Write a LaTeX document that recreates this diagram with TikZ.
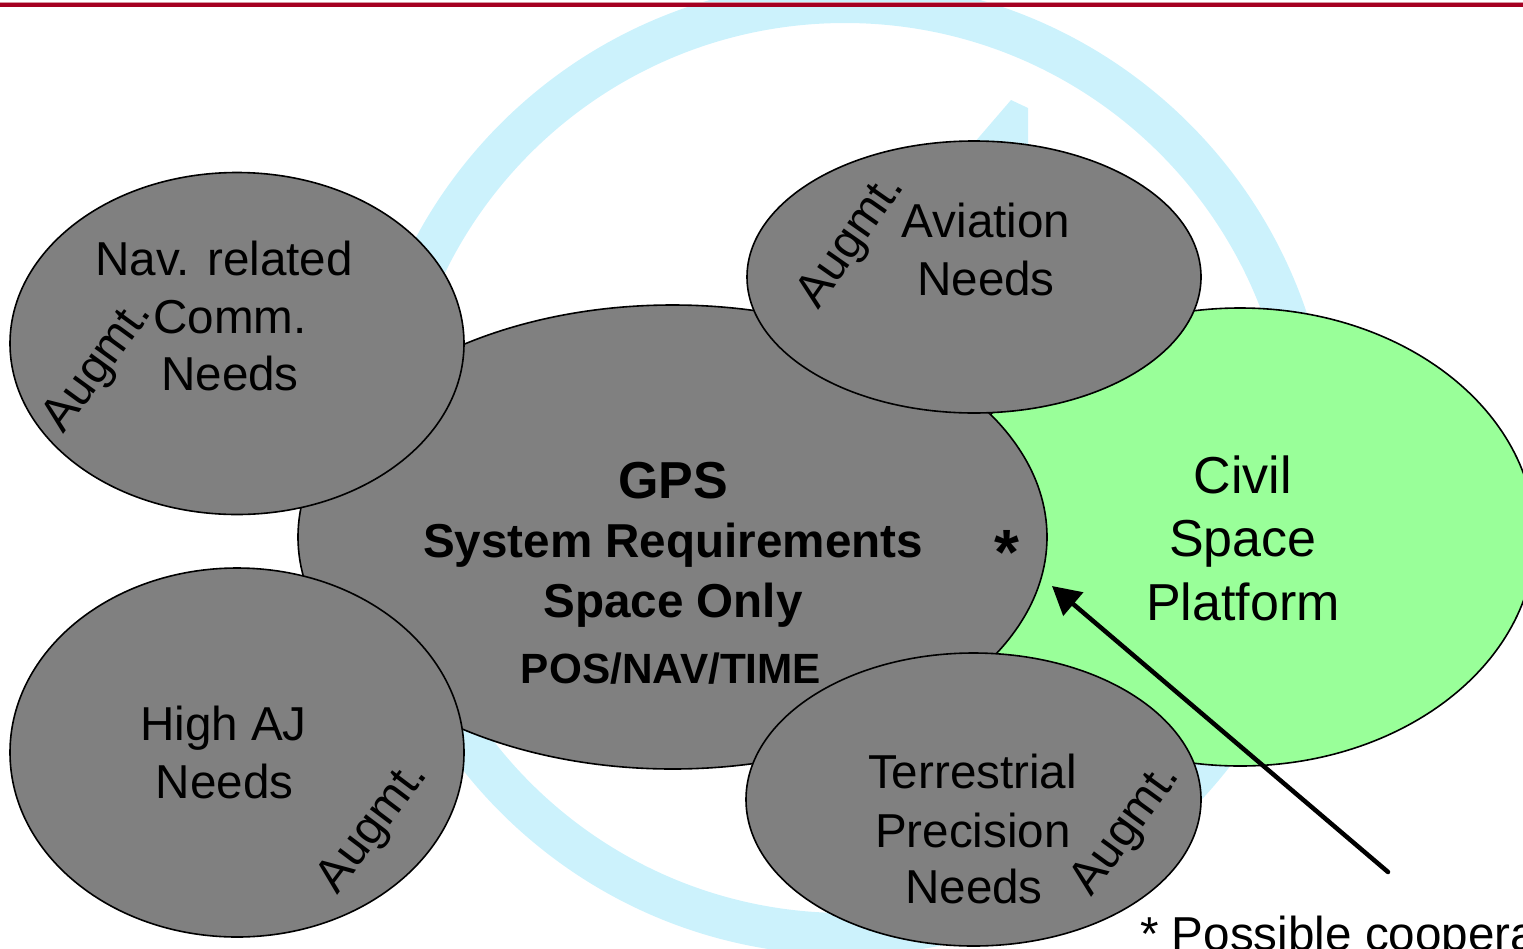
\documentclass[tikz,border=0pt]{standalone}
\usepackage{fontspec}
\setmainfont{Liberation Sans}
\usetikzlibrary{shapes.geometric,arrows.meta}
\definecolor{gpsgray}{RGB}{128,128,128}
\definecolor{civgreen}{RGB}{153,255,153}
\definecolor{ringblue}{RGB}{204,242,252}
\definecolor{barred}{RGB}{165,0,33}
\definecolor{barpink}{RGB}{215,150,160}
\begin{document}
\begin{tikzpicture}[x=1pt,y=-1pt,
  blob/.style={ellipse, draw=black, line width=1.6pt, fill=gpsgray, inner sep=0pt},
  txt/.style={anchor=base, inner sep=0pt, font=\fontsize{47.6}{57}\selectfont},
  btxt/.style={anchor=base, inner sep=0pt, font=\fontsize{47.6}{57}\selectfont\bfseries},
  civtxt/.style={anchor=base, inner sep=0pt, font=\fontsize{52}{62}\selectfont},
  aug/.style={inner sep=0pt, font=\fontsize{47.6}{57}\selectfont, rotate=55}]
\useasboundingbox (0,0) rectangle (1523,948);
\clip (0,0) rectangle (1523,948);
% background ring
\fill[ringblue, even odd rule] (845,468) circle[radius=487] (845,468) circle[radius=445];
\fill[ringblue] (968,150) -- (1011,100) -- (1028,108) -- (1028,160) -- cycle;
% ellipses
\node[blob, fill=civgreen, minimum width=590pt, minimum height=458pt] (civil) at (1240,537) {};
\node[blob, minimum width=749pt, minimum height=464pt] (gps) at (672.5,537) {};
\node[blob, minimum width=454pt, minimum height=342pt] (nav) at (237,343.5) {};
\node[blob, minimum width=454pt, minimum height=369pt] (aj) at (237,752.5) {};
\node[blob, minimum width=454pt, minimum height=272pt] (avi) at (974,277) {};
\node[blob, minimum width=455pt, minimum height=293pt] (ter) at (973.5,799.5) {};
% red bar
\fill[barpink] (0,1.6) rectangle (1523,2.6);
\fill[barred] (0,2.6) rectangle (1523,7.4);
% GPS texts
\node[btxt, font=\fontsize{52}{62}\selectfont\bfseries] (gps1) at (673,498) {GPS};
\node[btxt] (gps2) at (673,557) {System Requirements};
\node[btxt] (gps3) at (673,617) {Space Only};
\node[btxt, font=\fontsize{42.3}{50}\selectfont\bfseries] (gps4) at (671,683) {POS/NAV/TIME};
\node[btxt, font=\fontsize{64}{70}\selectfont\bfseries] (star) at (1007,574) {*};
% Civil texts
\node[civtxt] (civ1) at (1243,493) {Civil};
\node[civtxt] (civ2) at (1243,556) {Space};
\node[civtxt] (civ3) at (1243,620) {Platform};
% Nav texts
\node[txt] (nav1) at (224,275) {Nav. related};
\node[txt] (nav2) at (230,333) {Comm.};
\node[txt] (nav3) at (230,390) {Needs};
\node[aug, rotate=-1] (nava) at (99,367) {Augmt.};
% High AJ texts
\node[txt] (aj1) at (223.5,740) {High AJ};
\node[txt] (aj2) at (224.5,798) {Needs};
\node[aug, rotate=-2] (aja) at (374,828) {Augmt.};
% Aviation texts
\node[txt] (avi1) at (986,237) {Aviation};
\node[txt] (avi2) at (986,295) {Needs};
\node[aug] (avia) at (852,242) {Augmt.};
% Terrestrial texts
\node[txt] (ter1) at (972.5,788) {Terrestrial};
\node[txt] (ter2) at (973,847) {Precision};
\node[txt] (ter3) at (974,903) {Needs};
\node[aug, rotate=-1] (tera) at (1127,830) {Augmt.};
% arrow and note
\coordinate (tail) at (1388,872);
\coordinate (tip) at (1052,586);
\draw[line width=4.5pt, line cap=round, -{Triangle[length=28pt,width=30pt]}] (tail) -- (tip);
\node[txt, anchor=base west] (note) at (1140,950) {* Possible cooperation};
\end{tikzpicture}
\end{document}
